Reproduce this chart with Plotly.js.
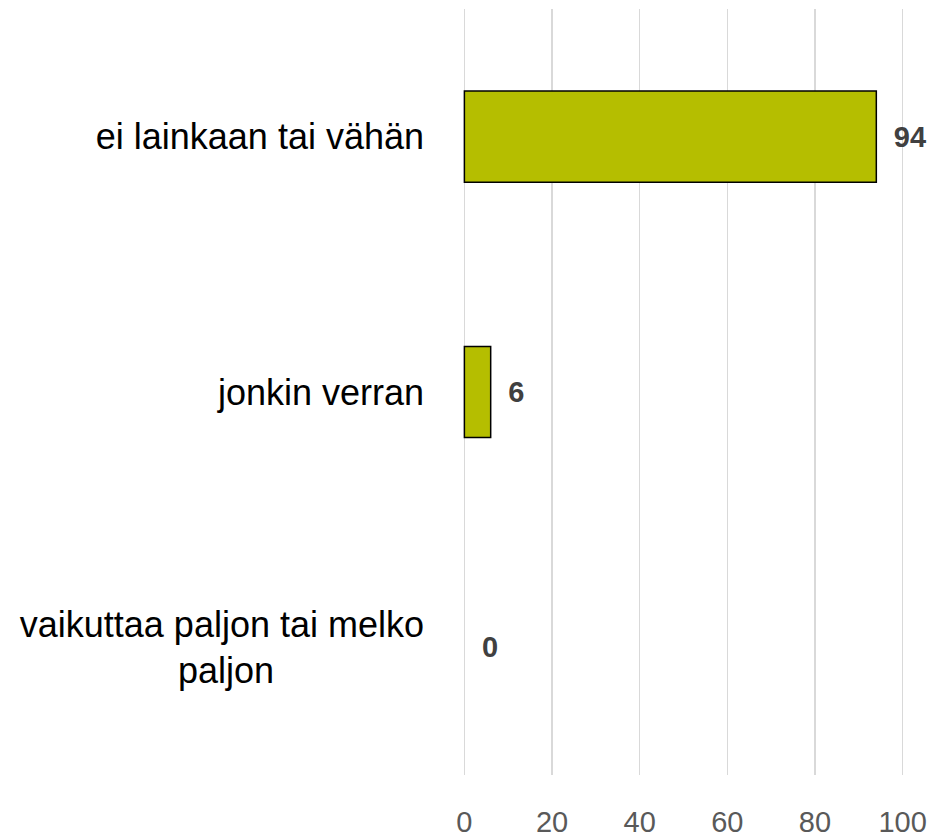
<!DOCTYPE html>
<html>
<head>
<meta charset="utf-8">
<script src="https://cdn.plot.ly/plotly-3.0.1.min.js"></script>
<style>
  html, body { margin: 0; padding: 0; background: #fff; }
  #plot { width: 928px; height: 838px; }
</style>
</head>
<body>
<div id="plot"></div>
<script>
// Categories (bottom to top, as Plotly draws them)
let categories = [
    "vaikuttaa paljon tai melko<br>paljon" + "\u00a0".repeat(15),
    "jonkin verran",
    "ei lainkaan tai vähän"
]
let values = [0, 6, 94]
let tickValues = [0, 20, 40, 60, 80, 100]

// Labels next to the bars, outline only on bars that have a length
let labels = []
let outlineWidths = []
for (i in values) {
    labels.push("\u2002" + values[i]);
    outlineWidths.push(values[i] > 0 ? 1.5 : 0);
}

let trace1 = {
    x: values,
    y: categories,
    type: "bar",
    orientation: "h",
    marker: {
        color: "#b5be00",
        line: {color: "#000000", width: outlineWidths}
    },
    text: labels,
    textposition: "outside",
    cliponaxis: false,
    textfont: {family: "Liberation Sans, Arial, sans-serif", size: 29, color: "#404040", weight: "bold"},
    hoverinfo: "none"
}

var data = [trace1]

// small padding on the range so the 0 and 100 grid lines are kept
var layout = {
    width: 928,
    height: 838,
    margin: {l: 460, r: 21, t: 9, b: 63},
    paper_bgcolor: "#ffffff",
    plot_bgcolor: "#ffffff",
    bargap: 0.643,
    showlegend: false,
    xaxis: {
        range: [-1, 101],
        tickvals: tickValues,
        showgrid: true,
        gridcolor: "#d9d9d9",
        gridwidth: 1.5,
        zeroline: false,
        showline: false,
        ticks: "",
        ticklabelstandoff: 27,
        tickfont: {family: "Liberation Sans, Arial, sans-serif", size: 29, color: "#595959"}
    },
    yaxis: {
        showgrid: false,
        zeroline: false,
        showline: false,
        ticks: "",
        ticklabelstandoff: 35,
        tickfont: {family: "Liberation Sans, Arial, sans-serif", size: 36, color: "#000000"}
    }
}

Plotly.newPlot("plot", data, layout, {displayModeBar: false, staticPlot: true});
</script>
</body>
</html>
